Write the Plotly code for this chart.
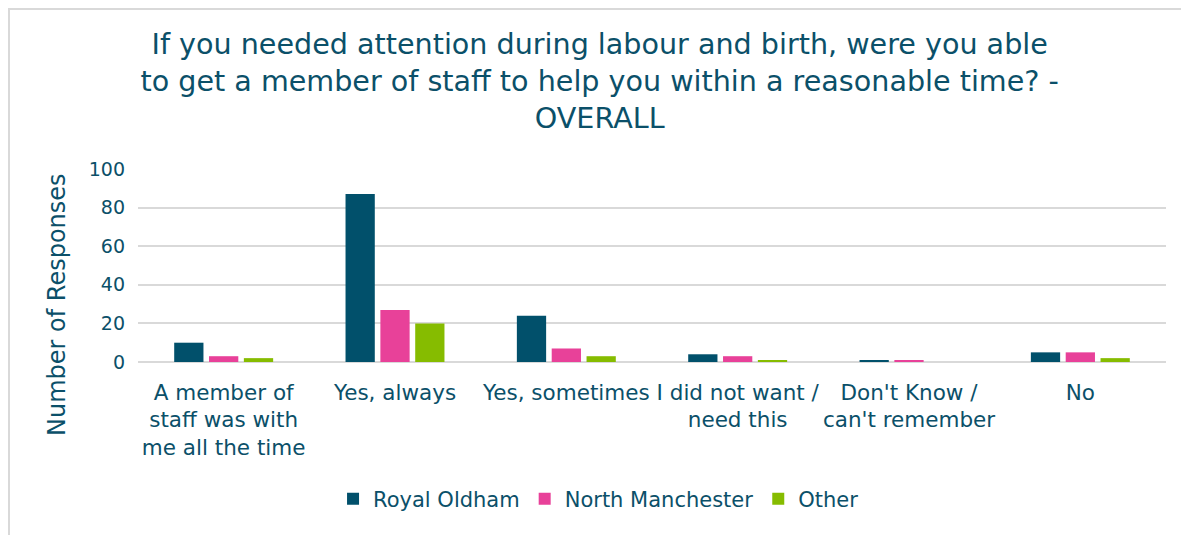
import plotly.graph_objects as go

categories = [
    "A member of<br>staff was with<br>me all the time",
    "Yes, always",
    "Yes, sometimes",
    "I did not want /<br>need this",
    "Don't Know /<br>can't remember",
    "No",
]
royal_oldham = [10, 87, 24, 4, 1, 5]
north_manchester = [3, 27, 7, 3, 1, 5]
other = [2, 20, 3, 1, 0, 2]

series_names = ["Royal Oldham", "North Manchester", "Other"]
series_colors = ["#01506B", "#E84199", "#86BC00"]
text_color = "#0B5069"
font_family = "DejaVu Sans, Noto Sans, sans-serif"

# page body has an 8px margin; size the figure so it fits the window
OFF = 8
W, H = 1189 - OFF, 535 - OFF
L, R, T, B = 138 - OFF, 23, 169 - OFF, 173

fig = go.Figure()
for name, vals, col in zip(series_names, [royal_oldham, north_manchester, other], series_colors):
    fig.add_trace(go.Bar(x=categories, y=vals, name=name, marker=dict(color=col, line=dict(width=0))))

def px_x(p):
    # p in window pixels
    return (p - OFF - L) / (W - L - R)

def px_y(q):
    return (H - B - (q - OFF)) / (H - T - B)

fig.update_layout(
    width=W, height=H,
    margin=dict(l=L, r=R, t=T, b=B, autoexpand=False),
    paper_bgcolor="white", plot_bgcolor="white",
    font=dict(family=font_family, color=text_color, size=20),
    barmode="group", bargap=0.39, bargroupgap=0.16,
    title=dict(
        text="If you needed attention during labour and birth, were you able<br>to get a member of staff to help you within a reasonable time? -<br>OVERALL",
        x=0.501, xanchor="center", y=0.913, yanchor="middle",
        font=dict(size=28.6, color=text_color, family=font_family),
    ),
    xaxis=dict(showline=False, ticks="", tickfont=dict(size=21.5, color=text_color), showgrid=False,
               ticklabelstandoff=15, tickangle=0, automargin=False),
    yaxis=dict(range=[0, 100], dtick=20, showgrid=True, gridcolor="#D9D9D9", gridwidth=1.5,
               zeroline=True, zerolinecolor="#D9D9D9", zerolinewidth=1.5,
               ticks="", tickfont=dict(size=19, color=text_color), ticklabelstandoff=12,
               automargin=False),
    legend=dict(orientation="h", x=0.448, xanchor="center", y=px_y(499), yanchor="middle",
                font=dict(size=21, color=text_color), itemwidth=30, traceorder="normal"),
    annotations=[dict(text="Number of Responses", textangle=-90, xref="paper", yref="paper",
                      x=px_x(57), y=px_y(305), xanchor="center", yanchor="middle", showarrow=False,
                      font=dict(size=24, color=text_color, family=font_family))],
    shapes=[
        dict(type="line", xref="paper", yref="paper", x0=px_x(OFF), x1=px_x(1189), y0=px_y(OFF + 1), y1=px_y(OFF + 1),
             line=dict(color="#D9D9D9", width=2)),
        dict(type="line", xref="paper", yref="paper", x0=px_x(OFF + 1), x1=px_x(OFF + 1), y0=px_y(OFF), y1=px_y(535),
             line=dict(color="#D9D9D9", width=2)),
    ],
)

fig.write_html("out.html")
